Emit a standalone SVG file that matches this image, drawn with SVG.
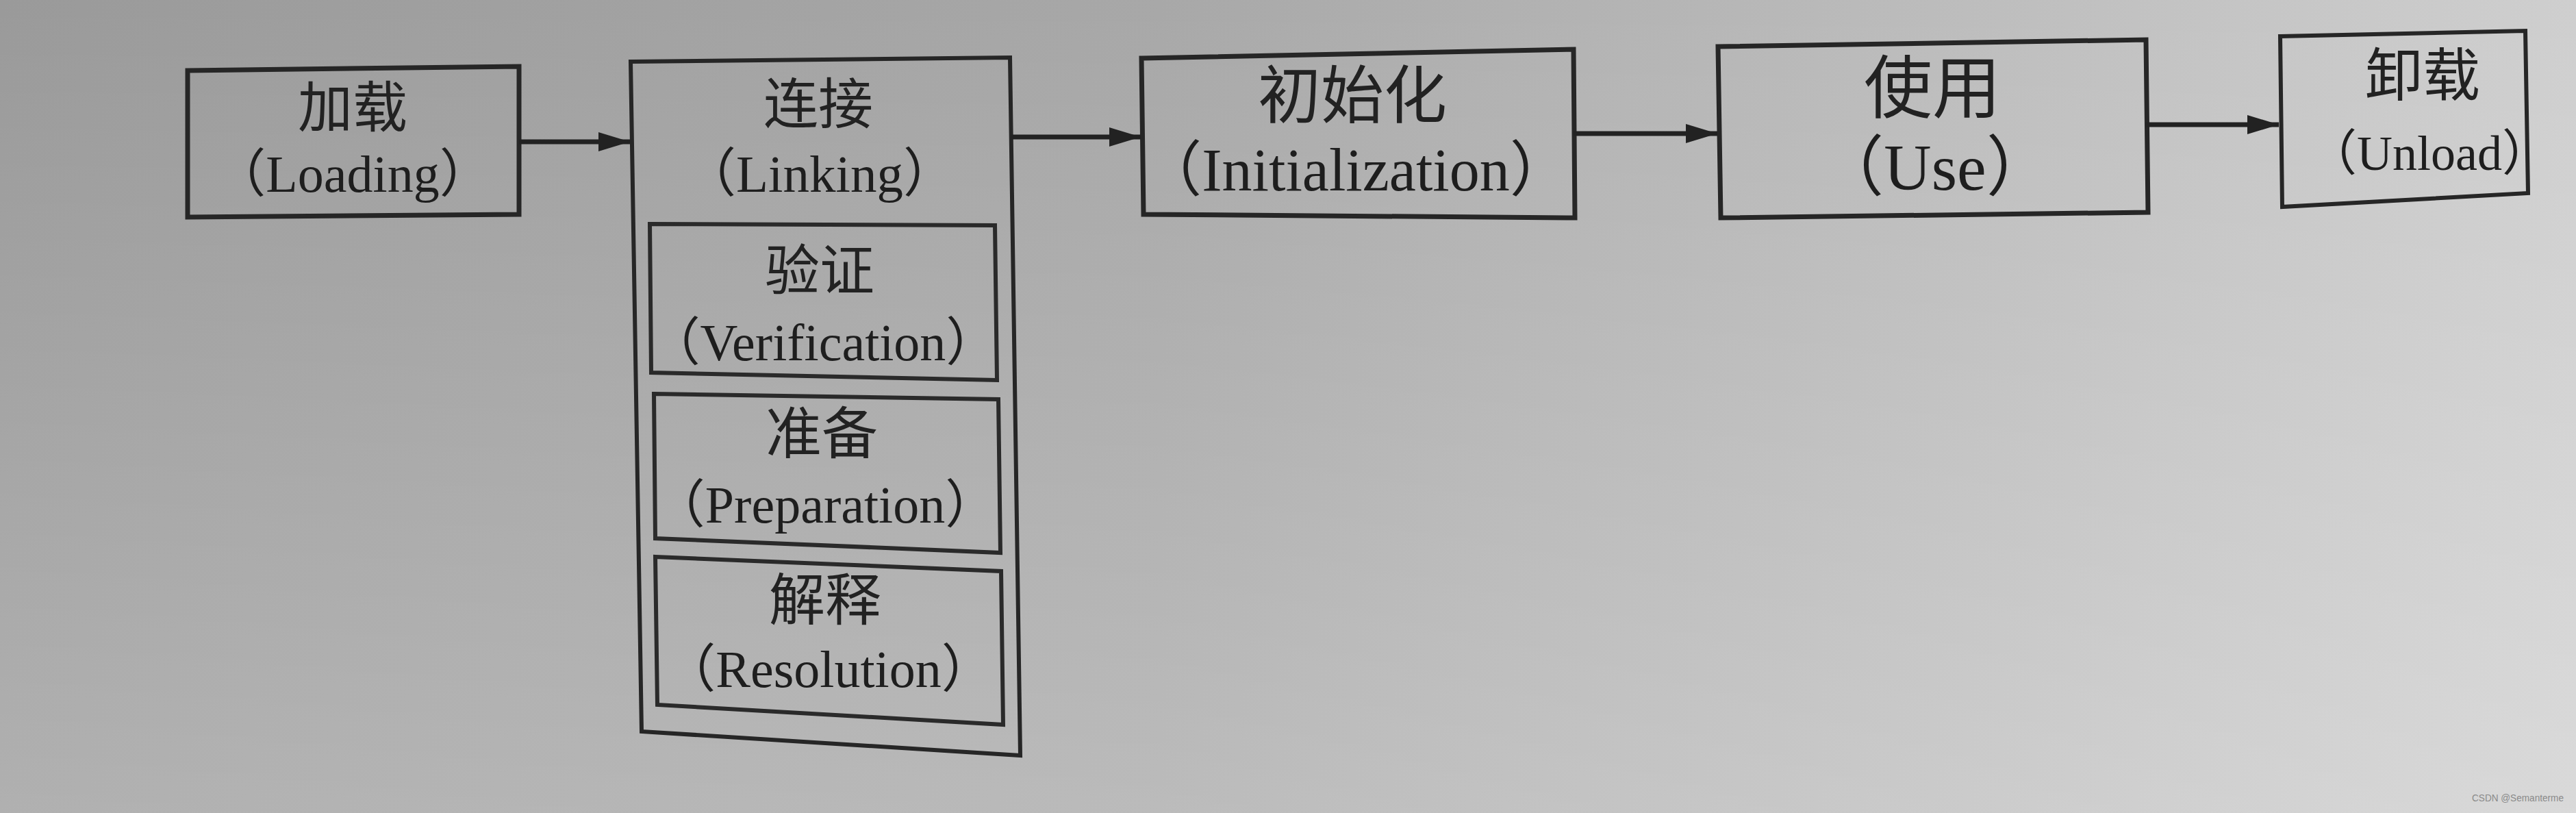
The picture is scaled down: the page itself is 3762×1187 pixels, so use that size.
<svg xmlns="http://www.w3.org/2000/svg" width="3762" height="1187" viewBox="0 0 3762 1187">
<defs>
<linearGradient id="bgH" x1="0" y1="0" x2="1" y2="0">
<stop offset="0" stop-color="#9a9a9a"/>
<stop offset="0.45" stop-color="#a8a8a8"/>
<stop offset="0.75" stop-color="#bcbcbc"/>
<stop offset="1" stop-color="#cfcfcf"/>
</linearGradient>
<linearGradient id="bgV" x1="0" y1="0" x2="0" y2="1">
<stop offset="0" stop-color="#ffffff" stop-opacity="0"/>
<stop offset="1" stop-color="#ffffff" stop-opacity="0.22"/>
</linearGradient>
<marker id="arr" markerUnits="userSpaceOnUse" markerWidth="48" markerHeight="28" refX="46" refY="14" orient="auto">
<path d="M0,0 L46,14 L0,28 Z" fill="#222"/>
</marker>
<style>
.box{fill:none;stroke:#262626;stroke-width:7;stroke-linejoin:miter}
.inner{fill:none;stroke:#2a2a2a;stroke-width:6}
.cn{font-family:"Noto Sans CJK SC","Noto Sans CJK TC",sans-serif;fill:#222;text-anchor:middle}
.en{font-family:"Liberation Serif","Noto Sans CJK SC",serif;fill:#1e1e1e;text-anchor:middle}
.conn{stroke:#222;stroke-width:7;fill:none}
.wm{font-family:"Liberation Sans",Arial,sans-serif;fill:#8a8a8a;font-size:15px}
</style>
</defs>
<rect x="0" y="0" width="3762" height="1187" fill="url(#bgH)"/>
<rect x="0" y="0" width="3762" height="1187" fill="url(#bgV)"/>

<g id="loading">
<polygon class="box" points="274,103 758,97 758,313 274,317"/>
<text class="cn" x="515" y="185" font-size="80">加载</text>
<text class="en" x="515" y="280" font-size="76">（Loading）</text>
</g>

<g id="linking">
<polygon class="box" style="stroke-width:6" points="921,90 1475,84 1490,1103 937,1068"/>
<text class="cn" x="1195" y="180" font-size="80">连接</text>
<text class="en" x="1197" y="280" font-size="77">（Linking）</text>
</g>

<g id="verification">
<polygon class="inner" points="949,327 1453,329 1456,555 951,544"/>
<text class="cn" x="1197" y="423" font-size="80">验证</text>
<text class="en" x="1202" y="526" font-size="76">（Verification）</text>
</g>

<g id="preparation">
<polygon class="inner" points="955,575 1458,583 1461,807 957,786"/>
<text class="cn" x="1200" y="662" font-size="82">准备</text>
<text class="en" x="1205" y="763" font-size="76">（Preparation）</text>
</g>

<g id="resolution">
<polygon class="inner" points="957,813 1462,834 1465,1058 960,1029"/>
<text class="cn" x="1205" y="905" font-size="82">解释</text>
<text class="en" x="1210" y="1003" font-size="76">（Resolution）</text>
</g>

<g id="initialization">
<polygon class="box" points="1667,85 2298,72 2300,318 1670,313"/>
<text class="cn" x="1975" y="172" font-size="92">初始化</text>
<text class="en" x="1980" y="278" font-size="88">（Initialization）</text>
</g>

<g id="use">
<polygon class="box" points="2509,68 3134,58 3137,310 2513,318"/>
<text class="cn" x="2822" y="164" font-size="100">使用</text>
<text class="en" x="2826" y="277" font-size="96">（Use）</text>
</g>

<g id="unload">
<polygon class="box" style="stroke-width:6" points="3330,53 3688,45 3692,282 3333,302"/>
<text class="cn" x="3538" y="140" font-size="84">卸载</text>
<text class="en" x="3548" y="248" font-size="72">（Unload）</text>
</g>

<g id="connectors">
<line class="conn" x1="758" y1="207" x2="920" y2="207" marker-end="url(#arr)"/>
<line class="conn" x1="1477" y1="200" x2="1666" y2="200" marker-end="url(#arr)"/>
<line class="conn" x1="2298" y1="195" x2="2508" y2="195" marker-end="url(#arr)"/>
<line class="conn" x1="3134" y1="182" x2="3328" y2="182" marker-end="url(#arr)"/>
</g>

<text class="wm" x="3610" y="1170" textLength="134" lengthAdjust="spacingAndGlyphs">CSDN @Semanterme</text>
</svg>
